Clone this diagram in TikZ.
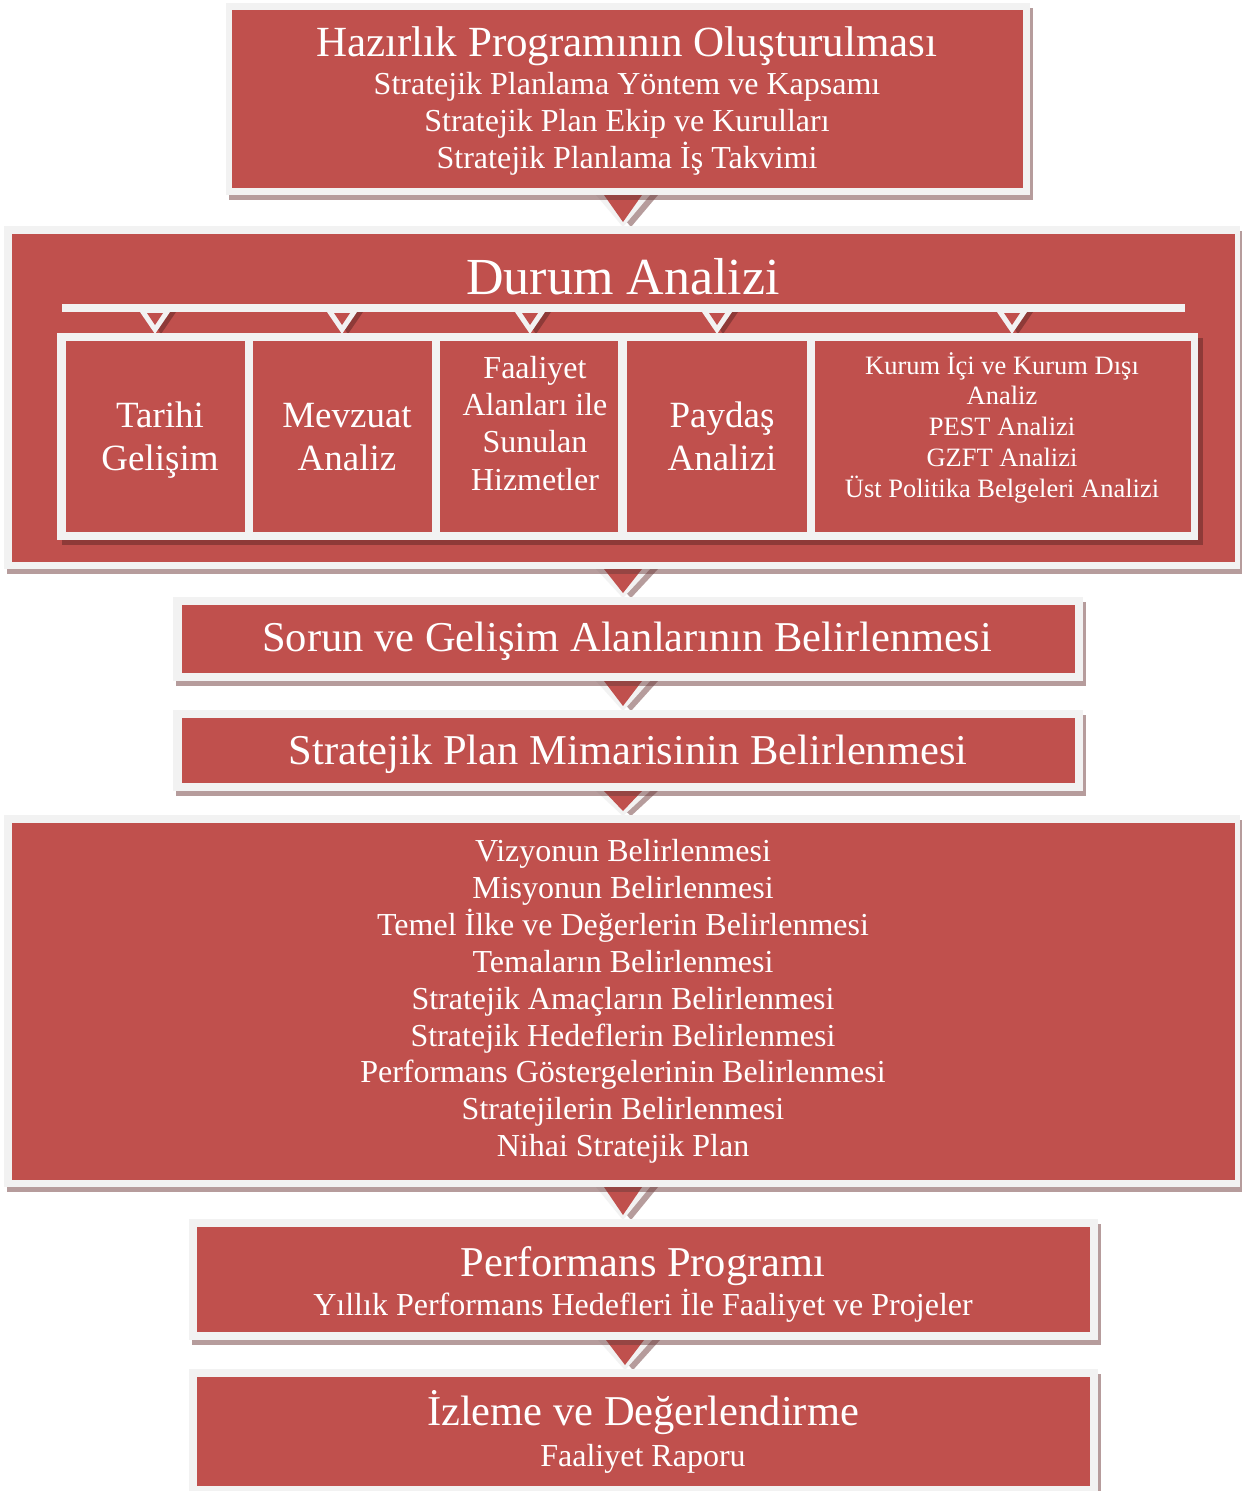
\documentclass[tikz,border=0pt]{standalone}
\usepackage{fontspec}
\setmainfont{Liberation Serif}
\definecolor{boxR}{HTML}{C0504D}
\definecolor{frameG}{HTML}{F2F2F2}
\definecolor{shadowD}{HTML}{6E3B3B}
\definecolor{innerSh}{HTML}{8E3A38}
\newcommand\myfs[1]{\fontsize{#1}{#1}\selectfont}
% outer frame x1 y1 x2 y2, red area rx1 ry1 rx2 ry2
\newcommand\stepframe[8]{%
  \fill[boxshadow] (#1+3,#2+5) rectangle (#3+3,#4+5);
  \fill[framefill] (#1,#2) rectangle (#3,#4);
  \fill[redfill] (#5,#6) rectangle (#7,#8);}
% connector triangle: centre x, gap top, gap bottom
\newcommand\conntri[3]{%
  \fill[boxshadow] (#1-27+8,#2) -- (#1+27+8,#2) -- (#1+8,#3+1) -- cycle;
  \fill[framefill] (#1-27,#2) -- (#1+27,#2) -- (#1,#3+1) -- cycle;
  \fill[redfill] (#1-19,#2) -- (#1+19,#2) -- (#1,#3-4) -- cycle;}
\newcommand\smalltri[1]{%
  \fill[innerSh] (#1-15+6,312) -- (#1+15+6,312) -- (#1+6,334) -- cycle;
  \fill[framefill] (#1-15,312) -- (#1+15,312) -- (#1,334) -- cycle;
  \fill[redfill] (#1-8,313) -- (#1+8,313) -- (#1,325) -- cycle;}
\tikzset{
  redfill/.style={fill=boxR},
  framefill/.style={fill=frameG},
  boxshadow/.style={fill=shadowD, fill opacity=0.5},
  txt/.style={text=white, inner sep=0pt, anchor=base},
}
\begin{document}
\begin{tikzpicture}[x=1pt,y=-1pt]
\useasboundingbox[fill=white] (0,0) rectangle (1242,1491);
% connectors (behind boxes)
\conntri{623}{195}{226}
\conntri{623}{569}{597}
\conntri{623}{681}{710}
\conntri{623}{791}{815}
\conntri{623}{1187}{1219}
\conntri{625}{1340}{1369}
% main boxes
\stepframe{226}{3}{1030}{195}{232}{10}{1023}{188}
\stepframe{4}{226}{1240}{569}{12}{234}{1235}{562}
\stepframe{173}{597}{1083}{681}{182}{605}{1075}{673}
\stepframe{173}{710}{1083}{791}{182}{718}{1075}{783}
\stepframe{4}{815}{1240}{1187}{12}{823}{1235}{1180}
\stepframe{189}{1219}{1098}{1340}{197}{1227}{1090}{1332}
\stepframe{189}{1369}{1098}{1496}{197}{1377}{1090}{1486}
% Durum analizi inner structure
\fill[framefill] (62,304) rectangle (1185,312);
\smalltri{155}
\smalltri{342}
\smalltri{530}
\smalltri{717}
\smalltri{1012}
\fill[innerSh] (62,338) rectangle (1203,545);
\fill[framefill] (57,333) rectangle (1198,540);
\fill[redfill] (66,341) rectangle (245,532);
\fill[redfill] (253,341) rectangle (432,532);
\fill[redfill] (440,341) rectangle (618,532);
\fill[redfill] (627,341) rectangle (807,532);
\fill[redfill] (815,341) rectangle (1191,532);
% texts
\node[txt, font=\myfs{43}] (h1) at (627,56) {Hazırlık Programının Oluşturulması};
\node[txt, font=\myfs{32}] (h2) at (627,94) {Stratejik Planlama Yöntem ve Kapsamı};
\node[txt, font=\myfs{32}] (h3) at (627,131) {Stratejik Plan Ekip ve Kurulları};
\node[txt, font=\myfs{32}] (h4) at (627,168) {Stratejik Planlama İş Takvimi};
\node[txt, font=\myfs{52}] (d1) at (623,294) {Durum Analizi};
\node[txt, font=\myfs{37}] (ta1) at (160,427) {Tarihi};
\node[txt, font=\myfs{37}] (ta2) at (160,470) {Gelişim};
\node[txt, font=\myfs{37}] (me1) at (347,427) {Mevzuat};
\node[txt, font=\myfs{37}] (me2) at (347,470) {Analiz};
\node[txt, font=\myfs{32}] (fa1) at (535,378) {Faaliyet};
\node[txt, font=\myfs{32}] (fa2) at (535,415) {Alanları ile};
\node[txt, font=\myfs{32}] (fa3) at (535,452) {Sunulan};
\node[txt, font=\myfs{32}] (fa4) at (535,490) {Hizmetler};
\node[txt, font=\myfs{37}] (pa1) at (722,427) {Paydaş};
\node[txt, font=\myfs{37}] (pa2) at (722,470) {Analizi};
\node[txt, font=\myfs{26.5}] (ku1) at (1002,374) {Kurum İçi ve Kurum Dışı};
\node[txt, font=\myfs{26.5}] (ku2) at (1002,404) {Analiz};
\node[txt, font=\myfs{26.5}] (ku3) at (1002,435) {PEST Analizi};
\node[txt, font=\myfs{26.5}] (ku4) at (1002,466) {GZFT Analizi};
\node[txt, font=\myfs{26.5}] (ku5) at (1002,497) {Üst Politika Belgeleri Analizi};
\node[txt, font=\myfs{42.5}] (so) at (627,651) {Sorun ve Gelişim Alanlarının Belirlenmesi};
\node[txt, font=\myfs{42.5}] (mi) at (628,764) {Stratejik Plan Mimarisinin Belirlenmesi};
\node[txt, font=\myfs{32}] (l1) at (623,861) {Vizyonun Belirlenmesi};
\node[txt, font=\myfs{32}] (l2) at (623,898) {Misyonun Belirlenmesi};
\node[txt, font=\myfs{32}] (l3) at (623,935) {Temel İlke ve Değerlerin Belirlenmesi};
\node[txt, font=\myfs{32}] (l4) at (623,972) {Temaların Belirlenmesi};
\node[txt, font=\myfs{32}] (l5) at (623,1009) {Stratejik Amaçların Belirlenmesi};
\node[txt, font=\myfs{32}] (l6) at (623,1046) {Stratejik Hedeflerin Belirlenmesi};
\node[txt, font=\myfs{32}] (l7) at (623,1082) {Performans Göstergelerinin Belirlenmesi};
\node[txt, font=\myfs{32}] (l8) at (623,1119) {Stratejilerin Belirlenmesi};
\node[txt, font=\myfs{32}] (l9) at (623,1156) {Nihai Stratejik Plan};
\node[txt, font=\myfs{42.5}] (p1) at (643,1276) {Performans Programı};
\node[txt, font=\myfs{32}] (p2) at (643,1315) {Yıllık Performans Hedefleri İle Faaliyet ve Projeler};
\node[txt, font=\myfs{42.5}] (i1) at (643,1425) {İzleme ve Değerlendirme};
\node[txt, font=\myfs{32}] (i2) at (643,1466) {Faaliyet Raporu};
\end{tikzpicture}
\end{document}
